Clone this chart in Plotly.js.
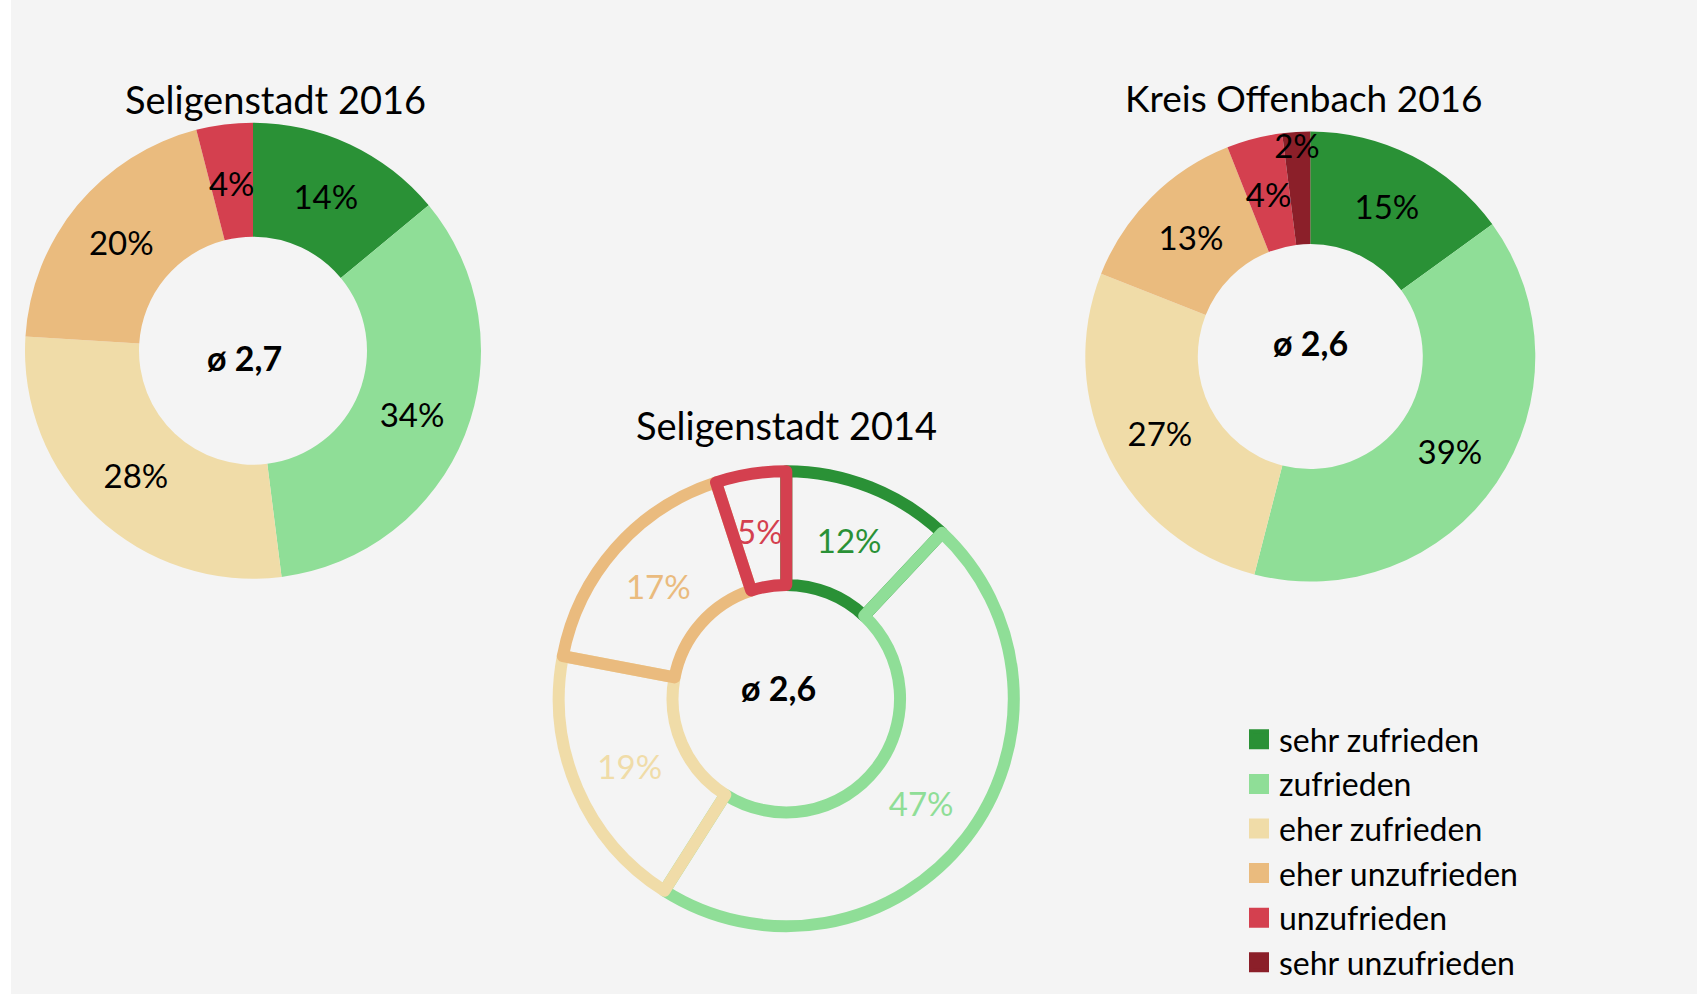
<!DOCTYPE html>
<html>
<head>
<meta charset="utf-8">
<script src="https://cdn.plot.ly/plotly-3.0.1.min.js"></script>
<style>
  html, body { margin: 0; padding: 0; background: #ffffff; }
  #chart { width: 1697px; height: 994px; }
  #chart .slice path.surface { stroke-linejoin: round; }
</style>
</head>
<body>
<div id="chart"></div>
<script>
// ---- data ----
const categories = ['sehr zufrieden', 'zufrieden', 'eher zufrieden', 'eher unzufrieden', 'unzufrieden', 'sehr unzufrieden'];
const colors = ['#2a9136', '#8fde97', '#f0dca8', '#eabb7e', '#d4404f', '#8b1f29'];

const seligenstadt2016Labels = ['sehr zufrieden', 'zufrieden', 'eher zufrieden', 'eher unzufrieden', 'unzufrieden'];
const seligenstadt2016Values = [14, 34, 28, 20, 4];
const seligenstadt2016Mean = 'ø 2,7';

const seligenstadt2014Labels = ['sehr zufrieden', 'zufrieden', 'eher zufrieden', 'eher unzufrieden', 'unzufrieden'];
const seligenstadt2014Values = [12, 47, 19, 17, 5];
const seligenstadt2014Mean = 'ø 2,6';

const kreisOffenbach2016Labels = ['sehr zufrieden', 'zufrieden', 'eher zufrieden', 'eher unzufrieden', 'unzufrieden', 'sehr unzufrieden'];
const kreisOffenbach2016Values = [15, 39, 27, 13, 4, 2];
const kreisOffenbach2016Mean = 'ø 2,6';

const titles = ['Seligenstadt 2016', 'Seligenstadt 2014', 'Kreis Offenbach 2016'];

// ---- helpers ----
const W = 1697, H = 994;
const FONT = 'Lato, "Open Sans", sans-serif';
const LABEL_SIZE = 33;
function colorFor(lbl) { return colors[categories.indexOf(lbl)]; }
function dom(cx, cy, r) {
  return { x: [(cx - r) / W, (cx + r) / W], y: [1 - (cy + r) / H, 1 - (cy - r) / H] };
}
// which slice labels are drawn by the main ring, and which by the label ring
function mainPos(labels, moved) { return labels.map((l, i) => moved.includes(i) ? 'none' : 'inside'); }
function ringPos(labels, moved) { return labels.map((l, i) => moved.includes(i) ? 'inside' : 'none'); }

const pieCommon = {
  type: 'pie', hole: 0.5, sort: false, direction: 'clockwise', rotation: 0,
  texttemplate: '%{value}%',
  insidetextorientation: 'horizontal', showlegend: false, hoverinfo: 'label+value'
};

function addDonut(traces, labels, values, cx, cy, r, opts) {
  const moved = opts.moved;
  traces.push(Object.assign({}, pieCommon, {
    labels: labels, values: values,
    marker: opts.marker,
    textposition: mainPos(labels, moved),
    textfont: { family: FONT, size: LABEL_SIZE, color: opts.textColor },
    domain: dom(cx, cy, r)
  }));
  // a transparent ring holding the labels of the narrow slices (keeps them mid-ring)
  traces.push(Object.assign({}, pieCommon, {
    labels: labels, values: values,
    marker: { colors: labels.map(() => 'rgba(0,0,0,0)'), line: { width: 0 } },
    textposition: ringPos(labels, moved),
    textfont: { family: FONT, size: LABEL_SIZE, color: opts.textColor },
    hoverinfo: 'skip',
    domain: dom(cx, cy, opts.labelRing)
  }));
}

const traces = [];
addDonut(traces, seligenstadt2016Labels, seligenstadt2016Values, 253, 350.7, 228, {
  marker: { colors: seligenstadt2016Labels.map(colorFor), line: { width: 0 } },
  textColor: '#000000', moved: [4], labelRing: 190.7
});
addDonut(traces, kreisOffenbach2016Labels, kreisOffenbach2016Values, 1310.3, 356.5, 225, {
  marker: { colors: kreisOffenbach2016Labels.map(colorFor), line: { width: 0 } },
  textColor: '#000000', moved: [4], labelRing: 188.7
});
addDonut(traces, seligenstadt2014Labels, seligenstadt2014Values, 786.3, 698.7, 227.5, {
  marker: { colors: seligenstadt2014Labels.map(() => 'rgba(0,0,0,0)'),
            line: { width: 12, color: seligenstadt2014Labels.map(colorFor) } },
  textColor: seligenstadt2014Labels.map(colorFor), moved: [4], labelRing: 195.9
});

// legend entries
categories.forEach((c, i) => {
  traces.push({
    type: 'scatter', mode: 'markers', x: [null], y: [null], name: c,
    legendgroup: 'g' + i, showlegend: true, hoverinfo: 'skip',
    marker: { symbol: 'square', size: 16, color: colors[i], line: { width: 4, color: colors[i] } }
  });
});

const annotations = [
  { text: titles[0], x: 275.1 / W, y: 1 - 99.5 / H, font: { size: 38 } },
  { text: titles[1], x: 786.7 / W, y: 1 - 424.6 / H, font: { size: 38 } },
  { text: titles[2], x: 1304.2 / W, y: 1 - 97 / H, font: { size: 37 } },
  { text: '<b>' + seligenstadt2016Mean + '</b>', x: 244.9 / W, y: 1 - 357.5 / H, font: { size: 34 } },
  { text: '<b>' + seligenstadt2014Mean + '</b>', x: 778.3 / W, y: 1 - 687.7 / H, font: { size: 34 } },
  { text: '<b>' + kreisOffenbach2016Mean + '</b>', x: 1310.8 / W, y: 1 - 342.8 / H, font: { size: 34 } }
].map(a => Object.assign({ xref: 'paper', yref: 'paper', showarrow: false, xanchor: 'center', yanchor: 'middle' }, a,
  { font: Object.assign({ family: FONT, color: '#000000' }, a.font) }));

const layout = {
  width: W, height: H,
  margin: { l: 0, r: 0, t: 0, b: 0, pad: 0 },
  paper_bgcolor: '#f4f4f4', plot_bgcolor: 'rgba(0,0,0,0)',
  font: { family: FONT, color: '#000000' },
  xaxis: { visible: false, fixedrange: true },
  yaxis: { visible: false, fixedrange: true },
  uniformtext: { mode: 'show', minsize: LABEL_SIZE },
  showlegend: true,
  legend: {
    x: 1239 / W, y: 1 - 712 / H, xanchor: 'left', yanchor: 'top',
    bgcolor: 'rgba(0,0,0,0)', font: { family: FONT, size: 32, color: '#000000' },
    tracegroupgap: 0, traceorder: 'grouped'
  },
  shapes: [{ type: 'rect', xref: 'paper', yref: 'paper', x0: 0, x1: 11 / W, y0: 0, y1: 1,
             fillcolor: '#ffffff', line: { width: 0 }, layer: 'below' }],
  annotations: annotations
};

Plotly.newPlot('chart', traces, layout, { displayModeBar: false, staticPlot: true });
</script>
</body>
</html>
